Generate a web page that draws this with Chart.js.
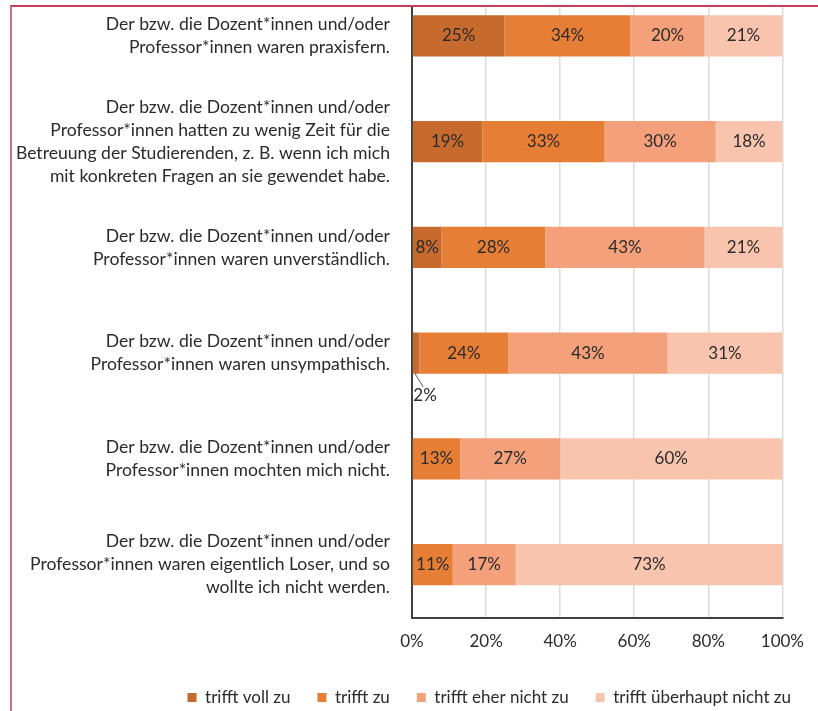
<!DOCTYPE html>
<html>
<head>
<meta charset="utf-8">
<script src="https://cdn.jsdelivr.net/npm/chart.js@4/dist/chart.umd.min.js"></script>
<style>
  html, body { margin: 0; padding: 0; background: #fff; }
  body { width: 818px; height: 711px; position: relative; overflow: hidden; }
  #clip { position: absolute; left: 0; top: 7px; width: 818px; height: 704px; overflow: hidden; }
  #wrap { position: absolute; left: 0; top: -47px; width: 818px; height: 751px; }
  #frame { position: absolute; left: 10px; top: 5px; right: -4px; bottom: -4px;
           border-top: 2px solid #c4405a; border-left: 2px solid #cf6f80; pointer-events: none; }
</style>
</head>
<body>
<div id="clip"><div id="wrap"><canvas id="c"></canvas></div></div>
<div id="frame"></div>
<script>
// Statements shown on the vertical axis (one array of lines per statement)
const categories = [
  ["Der bzw. die Dozent*innen und/oder", "Professor*innen waren praxisfern."],
  ["Der bzw. die Dozent*innen und/oder", "Professor*innen hatten zu wenig Zeit für die",
   "Betreuung der Studierenden, z. B. wenn ich mich", "mit konkreten Fragen an sie gewendet habe."],
  ["Der bzw. die Dozent*innen und/oder", "Professor*innen waren unverständlich."],
  ["Der bzw. die Dozent*innen und/oder", "Professor*innen waren unsympathisch."],
  ["Der bzw. die Dozent*innen und/oder", "Professor*innen mochten mich nicht."],
  ["Der bzw. die Dozent*innen und/oder", "Professor*innen waren eigentlich Loser, und so",
   "wollte ich nicht werden."]
];

// Answer shares in percent
const seriesNames = ["trifft voll zu", "trifft zu", "trifft eher nicht zu", "trifft überhaupt nicht zu"];
const trifftVollZu = [25, 19, 8, 2, 0, 0];
const trifftZu = [34, 33, 28, 24, 13, 11];
const trifftEherNichtZu = [20, 30, 43, 43, 27, 17];
const trifftUeberhauptNichtZu = [21, 18, 21, 31, 60, 73];

// Percentage axis ticks
const xTicks = [0, 20, 40, 60, 80, 100];

const colors = ["#c66a2e", "#e77e36", "#f3a07b", "#f8c4ae"];
const FONT = "Lato, 'Open Sans', sans-serif";
const TEXT = "#2b2b2b";

// Writes each segment's share; segments too narrow get the label below with a leader line
const segmentLabels = {
  id: "segmentLabels",
  afterDatasetsDraw(chart) {
    const ctx = chart.ctx;
    const area = chart.chartArea;
    ctx.save();
    ctx.font = "17px " + FONT;
    ctx.fillStyle = TEXT;
    ctx.textAlign = "center";
    ctx.textBaseline = "middle";
    chart.data.datasets.forEach((ds, i) => {
      const meta = chart.getDatasetMeta(i);
      if (meta.hidden) return;
      meta.data.forEach((bar, j) => {
        const v = ds.data[j];
        if (!v) return;
        const p = bar.getProps(["x", "base", "y", "height"], true);
        const left = Math.min(p.x, p.base);
        const right = Math.min(Math.max(p.x, p.base), area.right);
        const cx = (left + right) / 2;
        const text = v + "%";
        const tw = ctx.measureText(text).width;
        if (tw + 2 <= right - left) {
          ctx.fillText(text, cx, p.y);
        } else {
          const bottom = p.y + p.height / 2;
          ctx.strokeStyle = "#555";
          ctx.lineWidth = 1;
          ctx.beginPath();
          ctx.moveTo(cx - 1, bottom);
          ctx.lineTo(cx + 7, bottom + 13);
          ctx.stroke();
          ctx.fillText(text, cx + 9, bottom + 22);
        }
      });
    });
    ctx.restore();
  }
};

const values = [trifftVollZu, trifftZu, trifftEherNichtZu, trifftUeberhauptNichtZu];

new Chart(document.getElementById("c"), {
  type: "bar",
  data: {
    labels: categories,
    datasets: values.map((d, i) => ({
      label: seriesNames[i],
      data: d,
      backgroundColor: colors[i],
      borderWidth: 0,
      barPercentage: 0.39,
      categoryPercentage: 1
    }))
  },
  options: {
    indexAxis: "y",
    responsive: true,
    maintainAspectRatio: false,
    animation: false,
    layout: { padding: { top: 23, left: 0, right: 0, bottom: -5 } },
    scales: {
      x: {
        stacked: true,
        min: 0,
        max: 100,
        afterBuildTicks(scale) { scale.ticks = xTicks.map(v => ({ value: v })); },
        afterFit(scale) { scale.height -= 4; },
        ticks: {
          callback: v => v + "%",
          color: TEXT,
          font: { family: FONT, size: 17 },
          padding: 14,
          maxRotation: 0
        },
        grid: { color: "#dcdcdc", lineWidth: 1.5, drawTicks: false },
        border: { color: "#404040", width: 2 }
      },
      y: {
        stacked: true,
        afterFit(scale) {
          scale.width = 412;
          scale.paddingTop = 0;
          scale.paddingBottom = 0;
        },
        ticks: {
          color: TEXT,
          font: { family: FONT, size: 17.6, lineHeight: 1.31 },
          padding: 22,
          autoSkip: false
        },
        grid: { display: false, drawTicks: false },
        border: { color: "#404040", width: 2 }
      }
    },
    plugins: {
      legend: {
        position: "bottom",
        align: "end",
        labels: {
          boxWidth: 9,
          boxHeight: 9,
          padding: 27,
          color: TEXT,
          font: { family: FONT, size: 17 }
        }
      },
      tooltip: { enabled: false }
    }
  },
  plugins: [segmentLabels]
});
</script>
</body>
</html>
